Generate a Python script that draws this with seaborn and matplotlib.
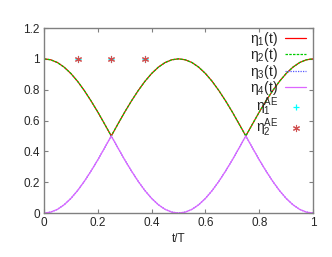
import matplotlib
matplotlib.use("Agg")
import matplotlib.pyplot as plt
import pandas as pd
import seaborn as sns

# t/T sampled every 0.025
t = [i * 0.025 for i in range(41)]

# upper pair of curves (eta1 == eta2)
eta_upper = [
    1.000, 0.994, 0.976, 0.946, 0.905, 0.854, 0.794, 0.727, 0.655, 0.578,
    0.500, 0.578, 0.655, 0.727, 0.794, 0.854, 0.905, 0.946, 0.976, 0.994,
    1.000, 0.994, 0.976, 0.946, 0.905, 0.854, 0.794, 0.727, 0.655, 0.578,
    0.500, 0.578, 0.655, 0.727, 0.794, 0.854, 0.905, 0.946, 0.976, 0.994,
    1.000,
]
# lower pair of curves (eta3 == eta4)
eta_lower = [
    0.000, 0.006, 0.024, 0.054, 0.095, 0.146, 0.206, 0.273, 0.345, 0.422,
    0.500, 0.422, 0.345, 0.273, 0.206, 0.146, 0.095, 0.054, 0.024, 0.006,
    0.000, 0.006, 0.024, 0.054, 0.095, 0.146, 0.206, 0.273, 0.345, 0.422,
    0.500, 0.422, 0.345, 0.273, 0.206, 0.146, 0.095, 0.054, 0.024, 0.006,
    0.000,
]

# adiabatic-elimination points
t_ae = [0.125, 0.25, 0.375]
eta1_ae = [1.0, 1.0, 1.0]
eta2_ae = [1.0, 1.0, 1.0]

sns.set_theme(style="ticks")
plt.rcParams["font.family"] = ["Liberation Sans", "DejaVu Sans"]
plt.rcParams["mathtext.default"] = "regular"
plt.rcParams["font.size"] = 8.5

fig = plt.figure(figsize=(3.32, 2.57), dpi=100)
ax = fig.add_axes([0.1325, 0.171, 0.8105, 0.72])

sns.lineplot(x=t, y=eta_upper, ax=ax, color="#ff0000", lw=0.9, label=r"$\eta_1(t)$")
sns.lineplot(x=t, y=eta_upper, ax=ax, color="#00cc00", lw=0.9, dashes=(2, 1),
             label=r"$\eta_2(t)$")
sns.lineplot(x=t, y=eta_lower, ax=ax, color="#5555ff", lw=0.9, dashes=(1, 1),
             label=r"$\eta_3(t)$")
sns.lineplot(x=t, y=eta_lower, ax=ax, color="#dd66ff", lw=0.9, label=r"$\eta_4(t)$")
sns.scatterplot(x=t_ae, y=eta1_ae, ax=ax, marker="+", color="#00ffff", s=25,
                linewidth=0.9, label=r"$\eta_1^{AE}$")
sns.scatterplot(x=t_ae, y=eta2_ae, ax=ax, marker=(6, 2, 0), color="#d05050", s=20,
                linewidth=0.8, label=r"$\eta_2^{AE}$")

ax.set_xlim(0, 1)
ax.set_ylim(0, 1.2)
ax.set_xticks([0, 0.2, 0.4, 0.6, 0.8, 1])
ax.set_xticklabels(["0", "0.2", "0.4", "0.6", "0.8", "1"])
ax.set_yticks([0, 0.2, 0.4, 0.6, 0.8, 1, 1.2])
ax.set_yticklabels(["0", "0.2", "0.4", "0.6", "0.8", "1", "1.2"])
ax.tick_params(direction="in", length=3, width=0.8, color="#808080",
               top=True, right=True, labelsize=8.5, pad=3)
for s in ax.spines.values():
    s.set_color("#808080")
    s.set_linewidth(1.0)
ax.set_xlabel("t/T", fontsize=8.5, labelpad=3)
ax.set_ylabel("")

ax.legend(loc="upper right", bbox_to_anchor=(306 / 332, 1 - 30 / 257),
          bbox_transform=fig.transFigure, frameon=False, markerfirst=False,
          borderpad=0, borderaxespad=0, handlelength=1.5, handletextpad=0.5,
          labelspacing=-0.12, fontsize=10)

fig.savefig("out.png", dpi=100)
